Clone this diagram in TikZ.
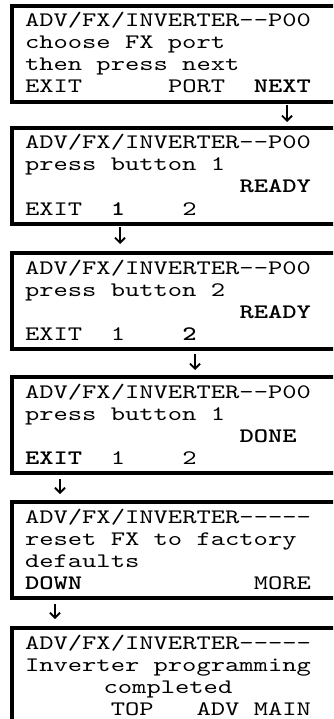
\documentclass[tikz,border=0pt]{standalone}
\usepackage{fontspec}
\usetikzlibrary{arrows.meta}
\newfontfamily\scrfont{lmmono10-regular.otf}[BoldFont=lmmonolt10-bold.otf, FakeStretch=1.322]
\newcommand{\hy}{\mbox{-}}
\begin{document}
\begin{tikzpicture}[x=1pt,y=-1pt,
  box/.style={draw, line width=4pt, anchor=north west, minimum width=340pt, minimum height=96pt, inner sep=0pt, outer sep=0pt},
  tx/.style={anchor=base west, inner sep=0pt, outer sep=0pt, font=\scrfont\fontsize{20.6}{22}\selectfont},
  flow/.style={line width=1.8pt, -{Straight Barb[length=5pt,width=10pt,line width=1.8pt]}}]
\useasboundingbox (0,0) rectangle (333,719);
\clip (0,0) rectangle (333,719);
\def\cw{14.3}
\def\ox{25}
% boxes
\node[box] (b1) at (12,6) {};
\node[box] (b2) at (12,128) {};
\node[box] (b3) at (12,253) {};
\node[box] (b4) at (12,377) {};
\node[box] (b5) at (12,502) {};
\node[box, minimum height=110pt] (b6) at (12,628) {};
% box 1
\node[tx] (t11) at (\ox,27) {ADV/FX/INVERTER—\hy P00};
\node[tx] (t12) at (\ox,49) {choose FX port};
\node[tx] (t13) at (\ox,71) {then press next};
\node[tx] (t14) at (\ox,93) {EXIT};
\node[tx] (t15) at ({\ox+10*\cw},93) {PORT};
\node[tx] (t16) at ({\ox+16*\cw},93) {\bfseries NEXT};
% box 2
\node[tx] (t21) at (\ox,149) {ADV/FX/INVERTER—\hy P00};
\node[tx] (t22) at (\ox,171) {press button 1};
\node[tx] (t23) at ({\ox+15*\cw},193) {\bfseries READY};
\node[tx] (t24) at (\ox,215) {EXIT};
\node[tx] (t25) at ({\ox+6*\cw},215) {\bfseries 1};
\node[tx] (t26) at ({\ox+11*\cw},215) {2};
% box 3
\node[tx] (t31) at (\ox,274) {ADV/FX/INVERTER—\hy P00};
\node[tx] (t32) at (\ox,296) {press button 2};
\node[tx] (t33) at ({\ox+15*\cw},318) {\bfseries READY};
\node[tx] (t34) at (\ox,340) {EXIT};
\node[tx] (t35) at ({\ox+6*\cw},340) {1};
\node[tx] (t36) at ({\ox+11*\cw},340) {\bfseries 2};
% box 4
\node[tx] (t41) at (\ox,398) {ADV/FX/INVERTER—\hy P00};
\node[tx] (t42) at (\ox,420) {press button 1};
\node[tx] (t43) at ({\ox+15*\cw},442) {\bfseries DONE};
\node[tx] (t44) at (\ox,464) {\bfseries EXIT};
\node[tx] (t45) at ({\ox+6*\cw},464) {1};
\node[tx] (t46) at ({\ox+11*\cw},464) {2};
% box 5
\node[tx] (t51) at (\ox,523) {ADV/FX/INVERTER—\hy\hy\hy\hy};
\node[tx] (t52) at (\ox,545) {reset FX to factory};
\node[tx] (t53) at (\ox,567) {defaults};
\node[tx] (t54) at (\ox,589) {\bfseries DOWN};
\node[tx] (t55) at ({\ox+16*\cw},589) {MORE};
% box 6
\node[tx] (t61) at (\ox,649) {ADV/FX/INVERTER—\hy\hy\hy\hy};
\node[tx] (t62) at (\ox,671) {Inverter programming};
\node[tx] (t63) at ({\ox+5.5*\cw},693) {completed};
\node[tx] (t64) at ({\ox+6*\cw},715) {TOP};
\node[tx] (t65) at ({\ox+12*\cw},715) {ADV};
\node[tx] (t66) at ({\ox+16*\cw},715) {MAIN};
% arrows
\coordinate (c1) at (287,0);
\coordinate (c2) at (120,0);
\coordinate (c3) at (195,0);
\coordinate (c4) at (60,0);
\coordinate (c5) at (55,0);
\draw[flow, shorten <=3pt, shorten >=6pt] (b1.south -| c1) -- (b2.north -| c1);
\draw[flow, shorten <=3pt, shorten >=9pt] (b2.south -| c2) -- (b3.north -| c2);
\draw[flow, shorten <=5pt, shorten >=7pt] (b3.south -| c3) -- (b4.north -| c3);
\draw[flow, shorten <=6pt, shorten >=8pt] (b4.south -| c4) -- (b5.north -| c4);
\draw[flow, shorten <=6pt, shorten >=9pt] (b5.south -| c5) -- (b6.north -| c5);
\end{tikzpicture}
\end{document}
